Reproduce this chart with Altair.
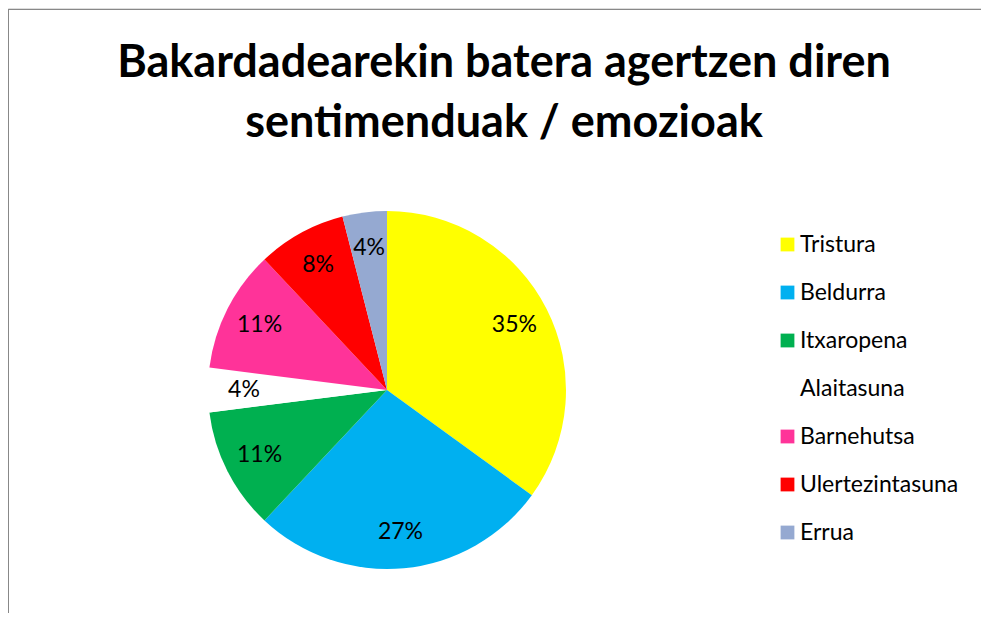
import altair as alt
import pandas as pd

categories = ["Tristura", "Beldurra", "Itxaropena", "Alaitasuna", "Barnehutsa", "Ulertezintasuna", "Errua"]
values = [35, 27, 11, 4, 11, 8, 4]
colors = ["#FFFF00", "#00B0F0", "#00B050", "#FFFFFF", "#FF3399", "#FF0000", "#95A9D1"]
title_lines = ["Bakardadearekin batera agertzen diren", "sentimenduak / emozioak"]

df = pd.DataFrame({
    "category": categories,
    "value": values,
    "idx": list(range(len(categories))),
    "label": [f"{v}%" for v in values],
})

W, H = 973, 605
CX, CY = 379, 382
R = 179

base = alt.Chart(df).encode(
    theta=alt.Theta("value:Q", stack=True),
    order=alt.Order("idx:Q"),
)

pie = base.mark_arc(outerRadius=R, x=CX, y=CY).encode(
    color=alt.Color(
        "category:N",
        sort=categories,
        scale=alt.Scale(domain=categories, range=colors),
        legend=alt.Legend(
            title=None,
            orient="none",
            legendX=768,
            legendY=225,
            symbolType="square",
            symbolSize=190,
            symbolStrokeWidth=0,
            symbolOpacity=1,
            labelFont="Lato",
            labelFontSize=23,
            labelColor="#000000",
            labelOffset=1,
            rowPadding=24,
            labelLimit=300,
        ),
    )
)

labels = base.mark_text(
    radius=143, x=CX, y=CY, font="Lato", fontSize=23, color="#000000"
).encode(text="label:N")

title = alt.Chart(df).mark_text(
    font="Lato", fontWeight="bold", fontSize=45, color="#000000",
    align="center", baseline="alphabetic", lineHeight=60,
).encode(
    x=alt.value(496), y=alt.value(69), text=alt.value(title_lines)
).transform_filter("datum.idx == 0")

border_left = alt.Chart(df).mark_rule(color="#888888", strokeWidth=1).encode(
    x=alt.value(0.5), y=alt.value(1), y2=alt.value(H)
).transform_filter("datum.idx == 0")
border_top = alt.Chart(df).mark_rule(color="#888888", strokeWidth=1).encode(
    x=alt.value(0), x2=alt.value(W), y=alt.value(1.5)
).transform_filter("datum.idx == 0")

chart = alt.layer(pie, labels, title, border_left, border_top).properties(
    width=W, height=H, autosize=alt.AutoSizeParams(type="none"), padding=0
).configure_view(stroke=None).configure(background="#FFFFFF")

chart.save("out.html", embed_options={"renderer": "svg", "actions": False})
